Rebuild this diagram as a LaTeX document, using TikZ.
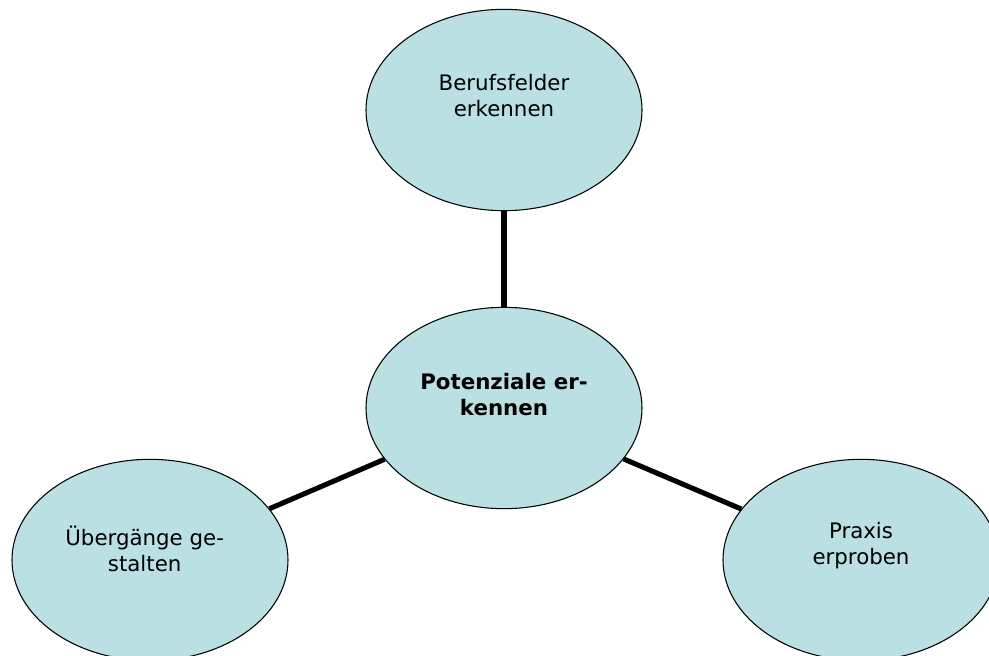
\documentclass[tikz,border=0pt]{standalone}
\usepackage{fontspec}
\setmainfont{DejaVu Sans}
\usetikzlibrary{shapes.geometric}
\definecolor{bubblefill}{RGB}{187,224,227}

\begin{document}
\begin{tikzpicture}[x=0.75pt, y=-0.75pt,
    bubble/.style={ellipse, draw=black, line width=0.8pt, fill=bubblefill,
                   minimum width=207pt, minimum height=151pt, inner sep=0pt},
    caption/.style={align=center, font=\fontsize{16}{19.5}\selectfont},
    link/.style={line width=3.8pt}]
  \clip (0,0) rectangle (989,656);

  \node[bubble] (mid)   at (504,408) {};
  \node[bubble] (top)   at (504,110) {};
  \node[bubble] (left)  at (150,560) {};
  \node[bubble] (right) at (861,560) {};

  \node[caption] (midtext)   at ([yshift=10pt]mid.center)
    {\textbf{Potenziale er-}\\\textbf{kennen}};
  \node[caption] (toptext)   at ([yshift=11pt]top.center)   {Berufsfelder\\erkennen};
  \node[caption] (lefttext)  at ([xshift=-4pt,yshift=8pt]left.center)  {Übergänge ge-\\stalten};
  \node[caption] (righttext) at ([yshift=11pt]right.center) {Praxis\\erproben};

  \path[link]
    (top)  edge (mid)
    (left) edge (mid)
    (right) edge (mid);
\end{tikzpicture}
\end{document}
